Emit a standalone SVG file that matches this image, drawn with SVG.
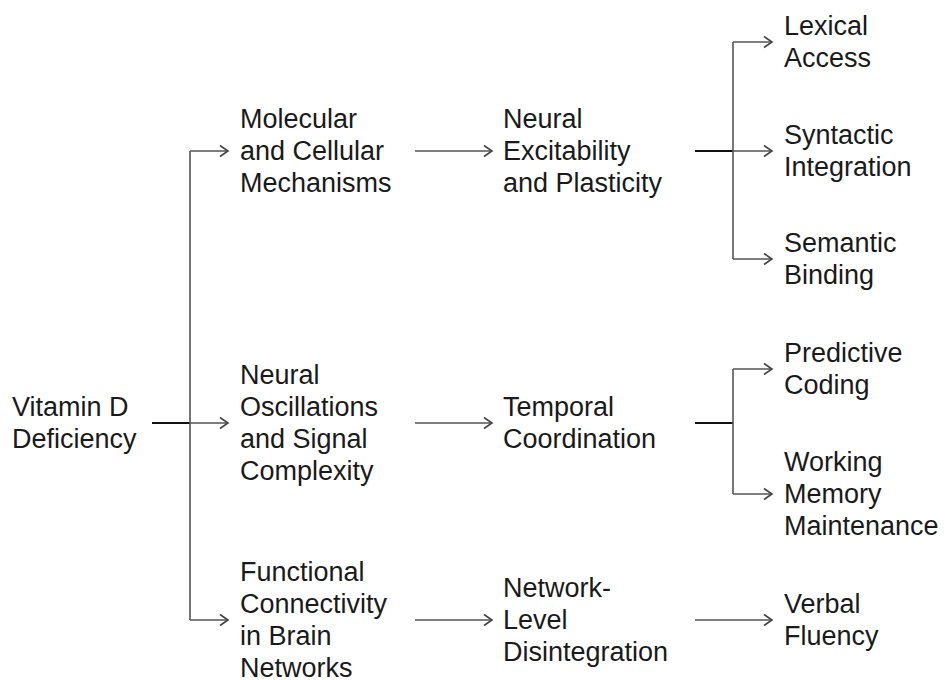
<svg xmlns="http://www.w3.org/2000/svg" width="948" height="680" viewBox="0 0 948 680">
<defs>
<style>
text{font-family:"Liberation Sans",Arial,sans-serif;font-size:27px;fill:#1a1a1a}
.stem{stroke:#111;stroke-width:2;fill:none}
.br{stroke:#555;stroke-width:1.6;fill:none}
</style>
<marker id="ah" viewBox="-10 -7 12 14" markerWidth="12" markerHeight="14" refX="0" refY="0" orient="auto" markerUnits="userSpaceOnUse">
<path d="M-8,-5.5 L0,0 L-8,5.5" fill="none" stroke="#444" stroke-width="1.6"/>
</marker>
</defs>
<rect width="948" height="680" fill="#fff"/>
<g id="connectors">
<path class="stem" d="M152,423 H190"/>
<path class="br" d="M190,151 V620"/>
<path class="br" d="M190,151 H228" marker-end="url(#ah)"/>
<path class="br" d="M190,423 H228" marker-end="url(#ah)"/>
<path class="br" d="M190,620 H228" marker-end="url(#ah)"/>
<path class="br" d="M415,151 H492" marker-end="url(#ah)"/>
<path class="br" d="M415,423 H492" marker-end="url(#ah)"/>
<path class="br" d="M415,620 H492" marker-end="url(#ah)"/>
<path class="stem" d="M695,151 H733"/>
<path class="br" d="M733,42 V259"/>
<path class="br" d="M733,42 H772" marker-end="url(#ah)"/>
<path class="br" d="M733,151 H772" marker-end="url(#ah)"/>
<path class="br" d="M733,259 H772" marker-end="url(#ah)"/>
<path class="stem" d="M695,423 H733"/>
<path class="br" d="M733,369 V494"/>
<path class="br" d="M733,369 H772" marker-end="url(#ah)"/>
<path class="br" d="M733,494 H772" marker-end="url(#ah)"/>
<path class="br" d="M695,620 H772" marker-end="url(#ah)"/>
</g>
<g id="n-vitd"><text x="12" y="416">Vitamin D</text><text x="12" y="448">Deficiency</text></g>
<g id="n-mol"><text x="240" y="128">Molecular</text><text x="240" y="160">and Cellular</text><text x="240" y="192">Mechanisms</text></g>
<g id="n-osc"><text x="240" y="384">Neural</text><text x="240" y="416">Oscillations</text><text x="240" y="448">and Signal</text><text x="240" y="480">Complexity</text></g>
<g id="n-fc"><text x="240" y="581">Functional</text><text x="240" y="613">Connectivity</text><text x="240" y="645">in Brain</text><text x="240" y="677">Networks</text></g>
<g id="n-nep"><text x="503" y="128">Neural</text><text x="503" y="160">Excitability</text><text x="503" y="192">and Plasticity</text></g>
<g id="n-tc"><text x="503" y="416">Temporal</text><text x="503" y="448">Coordination</text></g>
<g id="n-nld"><text x="503" y="597">Network-</text><text x="503" y="629">Level</text><text x="503" y="661">Disintegration</text></g>
<g id="n-lex"><text x="784" y="35">Lexical</text><text x="784" y="67">Access</text></g>
<g id="n-syn"><text x="784" y="144">Syntactic</text><text x="784" y="176">Integration</text></g>
<g id="n-sem"><text x="784" y="252">Semantic</text><text x="784" y="284">Binding</text></g>
<g id="n-pred"><text x="784" y="362">Predictive</text><text x="784" y="394">Coding</text></g>
<g id="n-wm"><text x="784" y="471">Working</text><text x="784" y="503">Memory</text><text x="784" y="535">Maintenance</text></g>
<g id="n-vf"><text x="784" y="613">Verbal</text><text x="784" y="645">Fluency</text></g>
</svg>
